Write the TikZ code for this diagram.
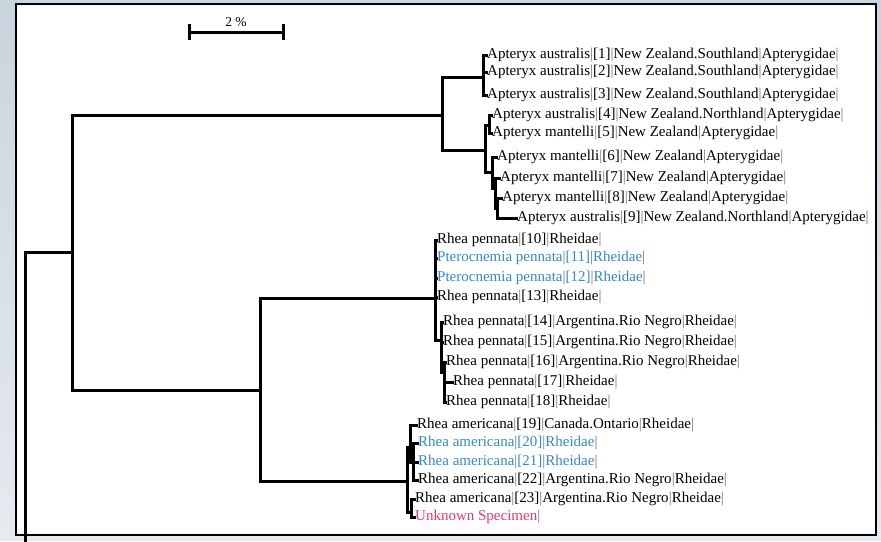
\documentclass[tikz,border=0pt]{standalone}
\usepackage{fontspec}
\setmainfont{Liberation Serif}
\usetikzlibrary{positioning}
\definecolor{bgtop}{RGB}{200,213,222}
\definecolor{bgbot}{RGB}{229,235,239}
\definecolor{taxblue}{RGB}{52,138,206}
\definecolor{taxpink}{RGB}{232,56,110}
\newcommand{\pipe}{\textcolor{black!55}{|}}
\tikzset{
    %Define style for taxon labels
    taxon/.style={
           anchor=west,
           inner sep=1pt,
           font=\fontsize{15}{16}\selectfont},
    % Define branch style
    branch/.style={
           line width=3pt,
           line cap=rect},
    frame/.style={
           draw=black,
           fill=white,
           line width=2pt},
}

\begin{document}
\begin{tikzpicture}[x=1pt, y=-1pt]
 %background and frame
 \shade[top color=bgtop, bottom color=bgbot] (0,0) rectangle (881,540);
 \path[frame] (16,4) rectangle (876,535);
 %scale bar
 \coordinate (sbl) at (189,32);
 \coordinate (sbr) at (283,32);
 \coordinate (sbm) at (236,27);
 \node[inner sep=0pt, above=0pt of sbm, font=\fontsize{13.5}{14}\selectfont] (sblabel) {2 \%};
 %internal nodes
 \coordinate (root) at (25,252);
 \coordinate (outgroup) at (25,540);
 \coordinate (ingroup) at (72,252);
 \coordinate (kiwi) at (442,115);
 \coordinate (kiwiS) at (483,77);
 \coordinate (kiwiN) at (485,150);
 \coordinate (kiwiA) at (489,125);
 \coordinate (kiwiB) at (492,172);
 \coordinate (kiwiC) at (495,188);
 \coordinate (kiwiD) at (497,208);
 \coordinate (rheas) at (260,390);
 \coordinate (penn) at (435,298);
 \coordinate (pennA) at (441,340);
 \coordinate (pennB) at (444,372);
 \coordinate (amer) at (407,481);
 \coordinate (amerA) at (410,447);
 \coordinate (amerB) at (413,462);
 \coordinate (amerC) at (411,512);
 %taxa
 \node[taxon] (t1) at (486,55) {Apteryx australis\pipe[1]\pipe New Zealand.Southland\pipe Apterygidae\pipe};
 \node[taxon] (t2) at (486,72) {Apteryx australis\pipe[2]\pipe New Zealand.Southland\pipe Apterygidae\pipe};
 \node[taxon] (t3) at (486,95) {Apteryx australis\pipe[3]\pipe New Zealand.Southland\pipe Apterygidae\pipe};
 \node[taxon] (t4) at (491,115) {Apteryx australis\pipe[4]\pipe New Zealand.Northland\pipe Apterygidae\pipe};
 \node[taxon] (t5) at (491,133) {Apteryx mantelli\pipe[5]\pipe New Zealand\pipe Apterygidae\pipe};
 \node[taxon] (t6) at (496,157) {Apteryx mantelli\pipe[6]\pipe New Zealand\pipe Apterygidae\pipe};
 \node[taxon] (t7) at (499,178) {Apteryx mantelli\pipe[7]\pipe New Zealand\pipe Apterygidae\pipe};
 \node[taxon] (t8) at (501,198) {Apteryx mantelli\pipe[8]\pipe New Zealand\pipe Apterygidae\pipe};
 \node[taxon] (t9) at (516,218) {Apteryx australis\pipe[9]\pipe New Zealand.Northland\pipe Apterygidae\pipe};
 \node[taxon] (t10) at (436,240) {Rhea pennata\pipe[10]\pipe Rheidae\pipe};
 \node[taxon, text=taxblue] (t11) at (436,258) {Pterocnemia pennata\pipe[11]\pipe Rheidae\pipe};
 \node[taxon, text=taxblue] (t12) at (436,278) {Pterocnemia pennata\pipe[12]\pipe Rheidae\pipe};
 \node[taxon] (t13) at (436,297) {Rhea pennata\pipe[13]\pipe Rheidae\pipe};
 \node[taxon] (t14) at (442,322) {Rhea pennata\pipe[14]\pipe Argentina.Rio Negro\pipe Rheidae\pipe};
 \node[taxon] (t15) at (442,342) {Rhea pennata\pipe[15]\pipe Argentina.Rio Negro\pipe Rheidae\pipe};
 \node[taxon] (t16) at (445,362) {Rhea pennata\pipe[16]\pipe Argentina.Rio Negro\pipe Rheidae\pipe};
 \node[taxon] (t17) at (452,382) {Rhea pennata\pipe[17]\pipe Rheidae\pipe};
 \node[taxon] (t18) at (445,402) {Rhea pennata\pipe[18]\pipe Rheidae\pipe};
 \node[taxon] (t19) at (416,425) {Rhea americana\pipe[19]\pipe Canada.Ontario\pipe Rheidae\pipe};
 \node[taxon, text=taxblue] (t20) at (417,443) {Rhea americana\pipe[20]\pipe Rheidae\pipe};
 \node[taxon, text=taxblue] (t21) at (417,462) {Rhea americana\pipe[21]\pipe Rheidae\pipe};
 \node[taxon] (t22) at (417,480) {Rhea americana\pipe[22]\pipe Argentina.Rio Negro\pipe Rheidae\pipe};
 \node[taxon] (t23) at (414,499) {Rhea americana\pipe[23]\pipe Argentina.Rio Negro\pipe Rheidae\pipe};
 \node[taxon, text=taxpink] (unknown) at (414,517) {Unknown Specimen\pipe};
 %edges
 \draw[branch] (sbl) -- (sbr);
 \draw[branch] ([yshift=7pt]sbl) -- ([yshift=-6pt]sbl);
 \draw[branch] ([yshift=7pt]sbr) -- ([yshift=-6pt]sbr);
 \draw[branch] (root) -- (ingroup);
 \draw[branch] (root) -- (outgroup);
 \draw[branch] (ingroup) |- (kiwi);
 \draw[branch] (ingroup) |- (rheas);
 \draw[branch] (kiwi) |- (kiwiS);
 \draw[branch] (kiwi) |- (kiwiN);
 \draw[branch] (kiwiS) |- (t1);
 \draw[branch] (kiwiS) |- (t2);
 \draw[branch] (kiwiS) |- (t3);
 \draw[branch] (kiwiN) |- (kiwiA);
 \draw[branch] (kiwiN) |- (kiwiB);
 \draw[branch] (kiwiA) |- (t4);
 \draw[branch] (kiwiA) |- (t5);
 \draw[branch] (kiwiB) |- (t6);
 \draw[branch] (kiwiB) |- (kiwiC);
 \draw[branch] (kiwiC) |- (t7);
 \draw[branch] (kiwiC) |- (kiwiD);
 \draw[branch] (kiwiD) |- (t8);
 \draw[branch] (kiwiD) |- (t9);
 \draw[branch] (rheas) |- (penn);
 \draw[branch] (rheas) |- (amer);
 \draw[branch] (penn) |- (t10);
 \draw[branch] (penn) |- (t11);
 \draw[branch] (penn) |- (t12);
 \draw[branch] (penn) |- (t13);
 \draw[branch] (penn) |- (pennA);
 \draw[branch] (pennA) |- (t14);
 \draw[branch] (pennA) |- (t15);
 \draw[branch] (pennA) |- (pennB);
 \draw[branch] (pennB) |- (t16);
 \draw[branch] (pennB) |- (t17);
 \draw[branch] (pennB) |- (t18);
 \draw[branch] (amer) |- (amerA);
 \draw[branch] (amer) |- (amerC);
 \draw[branch] (amerA) |- (t19);
 \draw[branch] (amerA) |- (amerB);
 \draw[branch] (amerB) |- (t20);
 \draw[branch] (amerB) |- (t21);
 \draw[branch] (amerB) |- (t22);
 \draw[branch] (amerC) |- (t23);
 \draw[branch] (amerC) |- (unknown);
\end{tikzpicture}
\end{document}
